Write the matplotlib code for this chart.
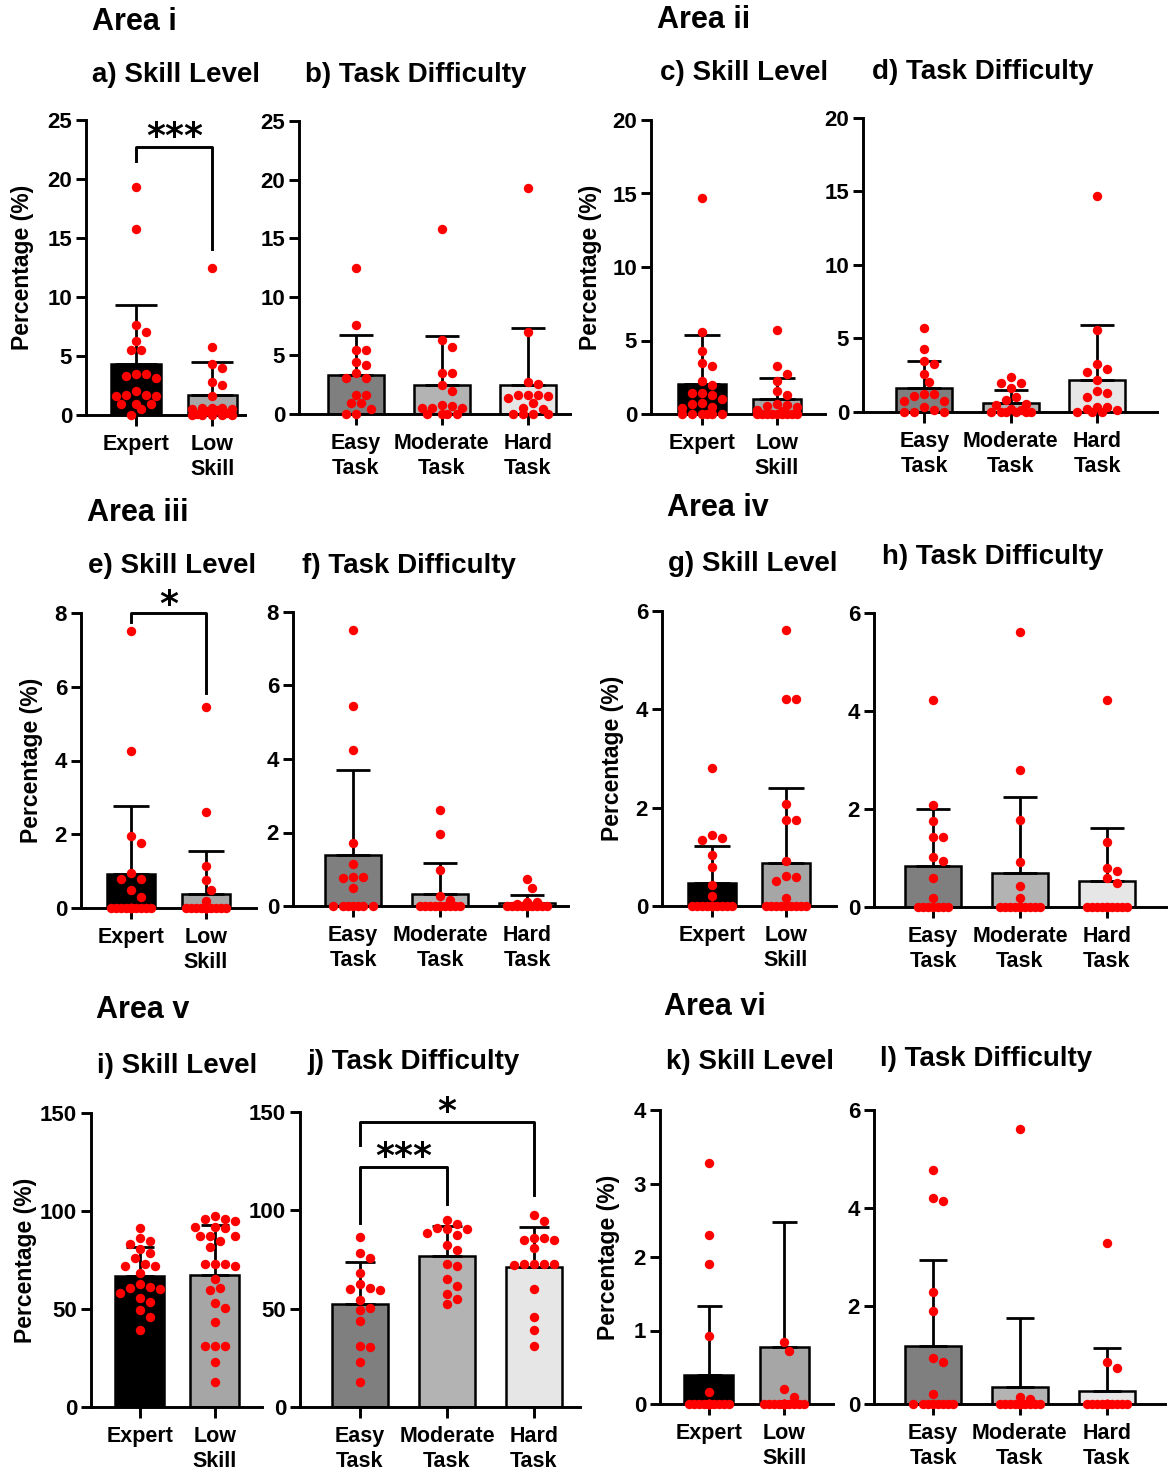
import numpy as np
import matplotlib
matplotlib.use('Agg')
import matplotlib.pyplot as plt

plt.rcParams['font.family'] = 'Liberation Sans'
plt.rcParams['font.weight'] = 'bold'

W, H = 1173, 1473

skill_labels = ['Expert', 'Low\nSkill']
task_labels = ['Easy\nTask', 'Moderate\nTask', 'Hard\nTask']
skill_colors = ['#000000', '#a6a6a6']
task_colors = ['#7f7f7f', '#b3b3b3', '#e6e6e6']

# ---- Area i
a_expert = [19.3, 15.8, 7.6, 7.0, 6.3, 5.5, 5.5, 3.5, 3.5, 3.3, 3.1, 2.0, 1.7, 1.7, 1.6, 1.6, 0.95, 0.95, 0.9, 0.5, 0.0]
a_low = [12.5, 5.75, 4.3, 4.0, 2.8, 2.55, 1.65, 0.6, 0.6, 0.6, 0.5, 0.5, 0.4, 0.3, 0.2, 0.1, 0, 0, 0, 0, 0]
a_mean = [4.35, 1.69]
a_sd = [5.0, 2.77]
b_easy = [12.5, 7.6, 5.5, 5.5, 4.4, 4.15, 3.5, 3.05, 3.05, 1.65, 1.65, 0.95, 0.95, 0.45, 0, 0]
b_mod = [15.8, 6.3, 5.7, 3.5, 3.5, 2.5, 2.0, 0.8, 0.65, 0.5, 0.5, 0.5, 0, 0, 0, 0]
b_hard = [19.3, 7.0, 2.75, 2.55, 1.65, 1.65, 1.65, 1.5, 1.35, 0.9, 0.55, 0.45, 0, 0, 0, 0]
b_mean = [3.32, 2.5, 2.5]
b_sd = [3.38, 4.17, 4.8]

# ---- Area ii
c_expert = [14.7, 5.6, 4.3, 3.5, 3.25, 2.25, 1.95, 1.4, 1.4, 1.3, 1.0, 0.75, 0.7, 0.45, 0.4, 0, 0, 0, 0, 0, 0]
c_low = [5.7, 3.25, 2.75, 2.25, 1.55, 1.3, 0.7, 0.6, 0.55, 0.5, 0.3, 0.2, 0, 0, 0, 0, 0, 0, 0, 0, 0]
c_mean = [2.04, 1.02]
c_sd = [3.36, 1.43]
d_easy = [5.7, 4.3, 3.5, 3.25, 2.6, 2.05, 1.25, 1.25, 1.1, 0.75, 0.75, 0.35, 0.15, 0, 0, 0]
d_mod = [2.35, 2.0, 2.0, 1.6, 1.0, 0.8, 0.55, 0.45, 0.2, 0.15, 0, 0, 0, 0, 0, 0]
d_hard = [14.7, 5.6, 3.25, 2.95, 2.75, 2.2, 1.45, 1.3, 1.05, 0.35, 0.35, 0.2, 0.15, 0, 0, 0]
d_mean = [1.63, 0.62, 2.2]
d_sd = [1.82, 0.9, 3.74]

# ---- Area iii
e_expert = [7.5, 4.25, 1.95, 1.75, 0.95, 0.8, 0.8, 0.5, 0.3] + [0] * 12
e_low = [5.45, 2.6, 1.15, 0.75, 0.5, 0.2] + [0] * 15
e_mean = [0.93, 0.39]
e_sd = [1.83, 1.16]
f_easy = [7.5, 5.45, 4.25, 1.72, 1.15, 0.8, 0.8, 0.75, 0.5] + [0] * 7
f_mod = [2.6, 1.95, 0.98, 0.28, 0.15] + [0] * 11
f_hard = [0.73, 0.5, 0.1, 0.1, 0.05] + [0] * 11
f_mean = [1.39, 0.33, 0.07]
f_sd = [2.31, 0.83, 0.23]

# ---- Area iv
g_expert = [2.8, 1.45, 1.38, 1.35, 1.03, 0.8, 0.42, 0.2] + [0] * 13
g_low = [5.62, 4.22, 4.22, 2.08, 1.75, 1.75, 0.92, 0.62, 0.6, 0.5, 0.17] + [0] * 10
g_mean = [0.47, 0.87]
g_sd = [0.76, 1.53]
h_easy = [4.22, 2.08, 1.75, 1.42, 1.42, 1.02, 0.93, 0.6, 0.18] + [0] * 7
h_mod = [5.62, 2.8, 1.78, 0.92, 0.43, 0.18] + [0] * 10
h_hard = [4.22, 1.33, 0.8, 0.73, 0.6, 0.48] + [0] * 10
h_mean = [0.83, 0.7, 0.53]
h_sd = [1.18, 1.55, 1.09]

# ---- Area v
i_expert = [91.1, 86.0, 84.8, 83.1, 80.4, 78.4, 75.9, 73.0, 72.0, 72.0, 68.2, 62.8, 61.4, 60.6,
            60.1, 58.0, 55.5, 53.8, 49.5, 45.8, 39.4]
i_low = [97.4, 95.9, 95.7, 95.0, 92.0, 91.6, 91.1, 87.4, 87.4, 87.4, 84.8, 81.5, 73.0, 73.0,
         73.0, 72.1, 65.3, 60.6, 59.7, 52.9, 50.4, 43.6, 30.9, 30.9, 30.9, 22.9, 12.7]
i_mean = [67.0, 67.5]
i_sd = [14.5, 25.3]
j_easy = [86.4, 78.3, 75.9, 68.3, 62.7, 60.7, 59.8, 59.7, 54.2, 50.3, 49.2, 43.7, 31.0, 30.5, 22.9, 12.7]
j_mod = [95.3, 92.9, 91.2, 90.7, 90.3, 88.5, 87.3, 82.5, 80.0, 72.9, 71.7, 64.9, 61.5, 57.6, 55.1, 52.5]
j_hard = [97.5, 94.6, 86.1, 86.1, 84.7, 84.7, 81.0, 72.9, 72.9, 72.9, 72.9, 72.0, 59.8, 45.8, 39.3, 31.0]
j_mean = [52.5, 76.8, 71.2]
j_sd = [21.2, 15.2, 20.3]

# ---- Area vi
k_expert = [3.28, 2.3, 1.9, 0.92, 0.17] + [0] * 16
k_low = [0.84, 0.72, 0.2, 0.1] + [0] * 17
k_mean = [0.39, 0.77]
k_sd = [0.94, 1.71]
l_easy = [4.78, 4.2, 4.15, 2.28, 1.9, 0.93, 0.85, 0.2] + [0] * 8
l_mod = [5.62, 0.15, 0.1] + [0] * 13
l_hard = [3.28, 0.85, 0.73] + [0] * 13
l_mean = [1.18, 0.34, 0.27]
l_sd = [1.76, 1.41, 0.87]

fig = plt.figure(figsize=(W / 100, H / 100), dpi=100)


def swarm(ax, xc, vals, d=10.0, maxw=0.28):
    t = ax.transData
    ppu = t.transform((1, 0))[0] - t.transform((0, 0))[0]
    ypx = t.transform(np.column_stack([np.zeros(len(vals)), vals]))[:, 1]
    lim = maxw * ppu
    step = d / 2
    cands = [0.0]
    k = 1
    while k * step <= lim + 1e-6:
        cands += [k * step, -k * step]
        k += 1
    px, py, out = [], [], []
    for y in ypx:
        best, bestd = 0.0, -1.0
        for c in cands:
            if px:
                dist = np.min(np.hypot(np.array(px) - c, np.array(py) - y))
            else:
                dist = np.inf
            if dist >= d * 0.95:
                best = c
                break
            if dist > bestd:
                best, bestd = c, dist
        px.append(best)
        py.append(y)
        out.append(xc + best / ppu)
    return np.array(out)


def panel(rect, xlim, ymax, ystep, labels, colors, groups, means, sds,
          ylabel_right=None, capsize=12):
    x0, x1, ytop, yzero = rect
    ax = fig.add_axes([x0 / W, 1 - yzero / H, (x1 - x0) / W, (yzero - ytop) / H])
    ax.set_xlim(*xlim)
    ax.set_ylim(0, ymax)
    pos = np.arange(len(labels))
    ax.bar(pos, means, width=0.65, color=colors, edgecolor='black', linewidth=1.8, zorder=2)
    ax.errorbar(pos, means, yerr=[np.zeros(len(means)), sds], fmt='none', ecolor='black',
                elinewidth=2.0, capsize=capsize, capthick=2.0, zorder=3)
    for p, vals in zip(pos, groups):
        xs = swarm(ax, p, vals)
        ax.scatter(xs, vals, s=46, color='#ff0000', linewidths=0, zorder=4, clip_on=False)
    for s in ['top', 'right']:
        ax.spines[s].set_visible(False)
    for s in ['left', 'bottom']:
        ax.spines[s].set_linewidth(2.1)
    ax.set_yticks(np.arange(0, ymax + ystep / 2, ystep))
    ax.set_xticks(pos)
    ax.set_xticklabels(labels, linespacing=1.2, fontweight='bold')
    ax.tick_params(axis='y', direction='out', length=7, width=2.1, labelsize=16, pad=3)
    ax.tick_params(axis='x', direction='out', length=8, width=2.1, labelsize=15.5, pad=6)
    for lab in ax.get_yticklabels():
        lab.set_fontweight('bold')
    if ylabel_right is not None:
        ax.set_ylabel('Percentage (%)', fontsize=16.5, fontweight='bold')
        ax.yaxis.set_label_coords((ylabel_right - x0) / (x1 - x0), 0.5)
    return ax


def bracket(ax, x1, x2, ytop, yl, yr, text, ystar):
    ax.plot([x1, x1, x2, x2], [yl, ytop, ytop, yr], color='black', lw=2.1, clip_on=False, zorder=5)
    ax.annotate(text, xy=((x1 + x2) / 2, ystar), xytext=(0, -7), textcoords='offset points',
                ha='center', va='center', fontsize=26, family='DejaVu Sans', weight='bold',
                annotation_clip=False)


ax_a = panel((86, 245, 120, 415), (-0.66, 1.43), 25, 5, skill_labels, skill_colors,
             [a_expert, a_low], a_mean, a_sd, ylabel_right=34, capsize=15)
bracket(ax_a, 0, 1, 22.7, 21.5, 14.1, '***', 24.4)
panel((299, 570, 121, 414), (-0.66, 2.49), 25, 5, task_labels, task_colors,
      [b_easy, b_mod, b_hard], b_mean, b_sd)
panel((651, 825, 120, 414), (-0.68, 1.64), 20, 5, skill_labels, skill_colors,
      [c_expert, c_low], c_mean, c_sd, ylabel_right=602, capsize=13)
panel((863, 1157, 118, 412), (-0.71, 2.69), 20, 5, task_labels, task_colors,
      [d_easy, d_mod, d_hard], d_mean, d_sd)

ax_e = panel((81, 256, 613, 908), (-0.67, 1.67), 8, 2, skill_labels, skill_colors,
             [e_expert, e_low], e_mean, e_sd, ylabel_right=43, capsize=13)
bracket(ax_e, 0, 1, 8.0, 7.76, 5.83, '*', 8.48)
panel((293, 568, 612, 906), (-0.69, 2.47), 8, 2, task_labels, task_colors,
      [f_easy, f_mod, f_hard], f_mean, f_sd)
panel((662, 836, 611, 906), (-0.68, 1.68), 6, 2, skill_labels, skill_colors,
      [g_expert, g_low], g_mean, g_sd, ylabel_right=624, capsize=13)
panel((874, 1166, 613, 907), (-0.68, 2.68), 6, 2, task_labels, task_colors,
      [h_easy, h_mod, h_hard], h_mean, h_sd)

panel((91, 262, 1113, 1407), (-0.65, 1.63), 150, 50, skill_labels, skill_colors,
      [i_expert, i_low], i_mean, i_sd, ylabel_right=37, capsize=10)
ax_j = panel((300, 580, 1112, 1407), (-0.69, 2.53), 150, 50, task_labels, task_colors,
             [j_easy, j_mod, j_hard], j_mean, j_sd, capsize=11)
bracket(ax_j, 0, 2, 145, 133, 108, '*', 155)
bracket(ax_j, 0, 1, 122, 93.5, 103, '***', 132)
panel((660, 833, 1110, 1404), (-0.65, 1.65), 4, 1, skill_labels, skill_colors,
      [k_expert, k_low], k_mean, k_sd, ylabel_right=620, capsize=9)
panel((874, 1165, 1110, 1404), (-0.68, 2.67), 6, 2, task_labels, task_colors,
      [l_easy, l_mod, l_hard], l_mean, l_sd, capsize=10)

titles = [
    ('Area i', 92, 22, 22), ('a) Skill Level', 92, 75, 20), ('b) Task Difficulty', 305, 75, 20),
    ('Area ii', 657, 20, 22), ('c) Skill Level', 660, 73, 20), ('d) Task Difficulty', 872, 72, 20),
    ('Area iii', 87, 513, 22), ('e) Skill Level', 88, 566, 20), ('f) Task Difficulty', 302, 566, 20),
    ('Area iv', 667, 508, 22), ('g) Skill Level', 668, 564, 20), ('h) Task Difficulty', 882, 557, 20),
    ('Area v', 96, 1010, 22), ('i) Skill Level', 97, 1066, 20), ('j) Task Difficulty', 307, 1062, 20),
    ('Area vi', 664, 1007, 22), ('k) Skill Level', 666, 1062, 20), ('l) Task Difficulty', 880, 1059, 20),
]
for txt, x, y, fs in titles:
    fig.text(x / W, 1 - y / H, txt, fontsize=fs, weight='bold', ha='left', va='center')

fig.savefig('out.png', dpi=100)
